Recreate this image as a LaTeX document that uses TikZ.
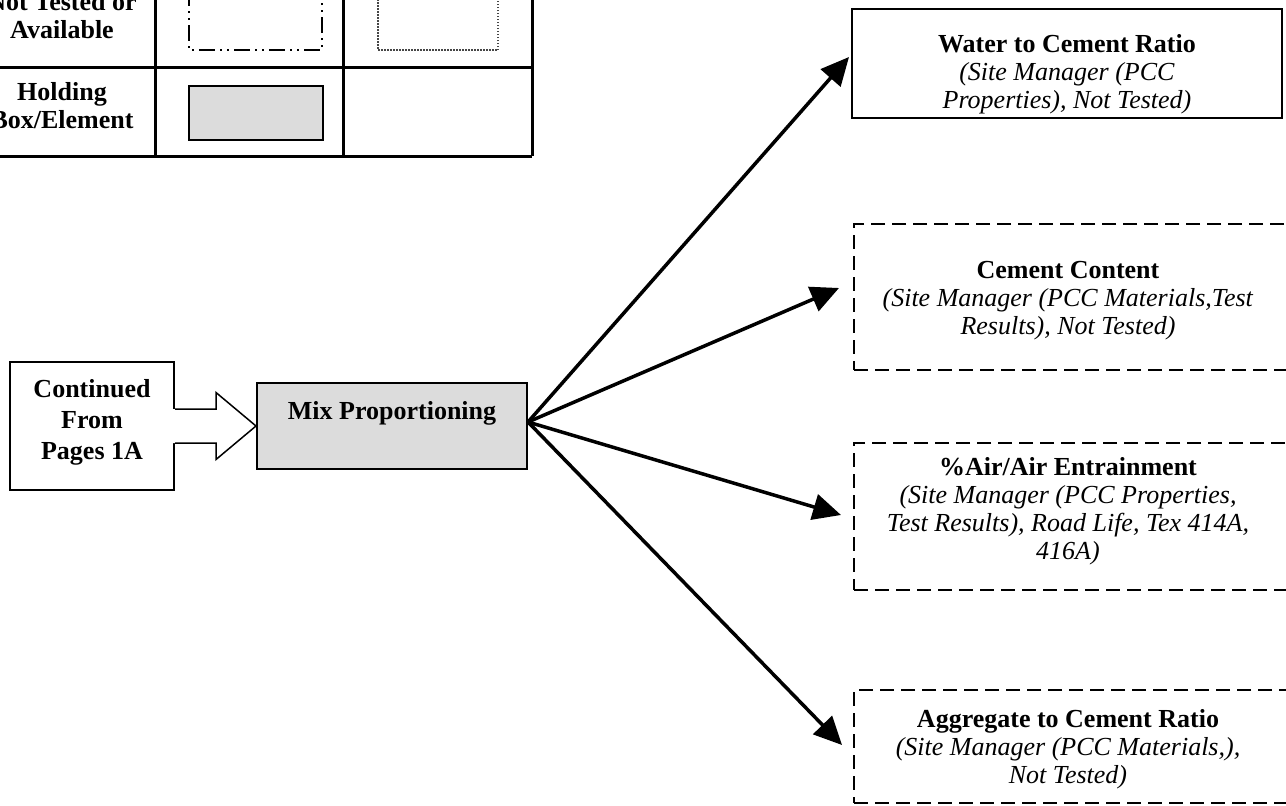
\documentclass[tikz,border=0pt]{standalone}
\usepackage{fontspec}
\setmainfont{Liberation Serif}
\usetikzlibrary{arrows.meta,calc}
\definecolor{holdgray}{RGB}{220,220,220}
\definecolor{dotgray}{RGB}{70,70,70}
\tikzset{
  txt/.style={font=\fontsize{26}{28}\selectfont, align=center, inner sep=0pt},
  solidbox/.style={draw, line width=2pt, inner sep=0pt},
  dashbox/.style={draw, line width=2pt, dash pattern=on 14pt off 7pt, inner sep=0pt},
  holdbox/.style={draw, line width=2pt, fill=holdgray, inner sep=0pt},
  contbox/.style={draw, line width=2pt, fill=white, txt, font=\fontsize{26}{31}\selectfont},
  flowarrow/.style={line width=3.5pt, -{Triangle[length=28pt,width=26pt]}},
  blockarrow/.style={line width=1.5pt, line join=miter},
  tableline/.style={line width=3pt},
  dashdotbox/.style={line width=2pt, dash pattern=on 16pt off 5pt on 2pt off 5pt on 2pt off 5pt},
  dotbox/.style={line width=1.5pt, draw=dotgray, dash pattern=on 1.5pt off 1.5pt},
}
\begin{document}
\begin{tikzpicture}[x=1pt,y=-1pt]
\clip (0,0) rectangle (1286,806);

% legend table
\draw[tableline] (-40,67) -- (532,67);
\draw[tableline] (-40,156) -- (532,156);
\draw[tableline] (155,-40) -- (155,156);
\draw[tableline] (343,-40) -- (343,156);
\draw[tableline] (532,-40) -- (532,156);
\node[txt] (lgA) at (62,16) {\textbf{Not Tested or}\\\textbf{Available}};
\node[txt] (lgH) at (62,106) {\textbf{Holding}\\\textbf{Box/Element}};
\draw[dashdotbox] (189,-10) rectangle (322,50);
\draw[dotbox] (378,-10) rectangle (498,50);
\draw[line width=2pt, fill=holdgray] (189,86) rectangle (323,140);

% flow nodes
\node[contbox, minimum width=164pt, minimum height=128pt] (cont) at (92,426) {};
\node[txt, font=\fontsize{26}{31}\selectfont] (contlbl) at (92,422)
  {\textbf{Continued}\\\textbf{From}\\\textbf{Pages 1A}};
\node[holdbox, minimum width=270pt, minimum height=86pt] (mix) at (392,426) {};
\node[txt] (mixlbl) at ($(mix.center)+(0,-13)$) {\textbf{Mix Proportioning}};

\node[solidbox, minimum width=430pt, minimum height=109pt] (water) at (1067,63.5) {};
\node[txt] (waterlbl) at (1067,74.5)
  {\textbf{Water to Cement Ratio}\\\textit{(Site Manager (PCC}\\\textit{Properties), Not Tested)}};
\node[dashbox, minimum width=436pt, minimum height=146pt] (cement) at (1072,297) {};
\node[txt] (cementlbl) at (1068,301)
  {\textbf{Cement Content}\\\textit{(Site Manager (PCC Materials,Test}\\\textit{Results), Not Tested)}};
\node[dashbox, minimum width=436pt, minimum height=147pt] (air) at (1072,516.5) {};
\node[txt] (airlbl) at (1068,511)
  {\textbf{\%Air/Air Entrainment}\\\textit{(Site Manager (PCC Properties,}\\\textit{Test Results), Road Life, Tex 414A,}\\\textit{416A)}};
\node[dashbox, minimum width=436pt, minimum height=113pt] (agg) at (1072,746.5) {};
\node[txt] (agglbl) at (1068,749.5)
  {\textbf{Aggregate to Cement Ratio}\\\textit{(Site Manager (PCC Materials,),}\\\textit{Not Tested)}};

% block arrow from the continuation box
\fill[white] ($(cont.east)+(-2,-17)$) -- ($(cont.east)+(41,-17)$) -- ($(cont.east)+(41,-33.5)$)
  -- (mix.west) -- ($(cont.east)+(41,33.5)$) -- ($(cont.east)+(41,17)$) -- ($(cont.east)+(-2,17)$) -- cycle;
\draw[blockarrow] ($(cont.east)+(0,-17)$) -- ($(cont.east)+(41,-17)$) -- ($(cont.east)+(41,-33.5)$)
  -- (mix.west) -- ($(cont.east)+(41,33.5)$) -- ($(cont.east)+(41,17)$) -- ($(cont.east)+(0,17)$);

% fan of arrows
\coordinate (hub) at ($(mix.east)+(0,-4)$);
\coordinate (t1) at ($(water.west)+(-2,-6.5)$);
\coordinate (t2) at ($(cement.west)+(-14,-9)$);
\coordinate (t3) at ($(air.west)+(-12,-1.5)$);
\coordinate (t4) at ($(agg.west)+(-11,-1.5)$);
\draw[flowarrow] (hub) -- (t1);
\draw[flowarrow] (hub) -- (t2);
\draw[flowarrow] (hub) -- (t3);
\draw[flowarrow] (hub) -- (t4);
\end{tikzpicture}
\end{document}
